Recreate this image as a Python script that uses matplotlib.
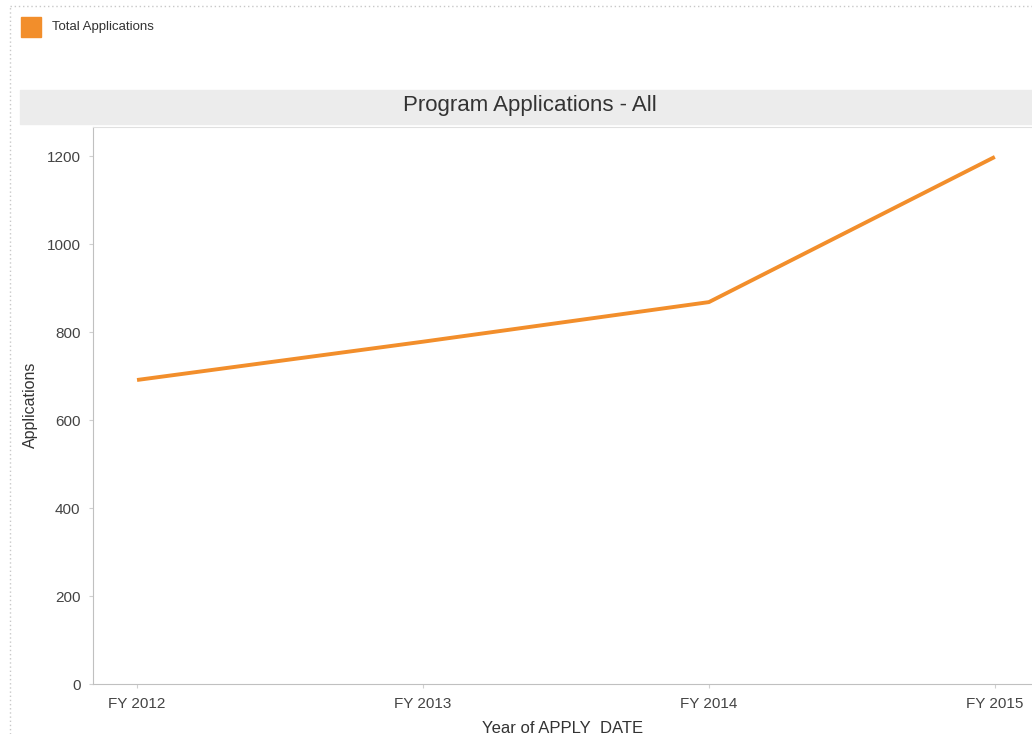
import matplotlib.pyplot as plt
from matplotlib.patches import Rectangle
from matplotlib.lines import Line2D

years = ['FY 2012', 'FY 2013', 'FY 2014', 'FY 2015']
applications = [691, 778, 868, 1198]
yticks = [0, 200, 400, 600, 800, 1000, 1200]

plt.rcParams['font.family'] = ['Liberation Sans', 'DejaVu Sans']

fig = plt.figure(figsize=(10.32, 7.34), dpi=100)
fig.patch.set_facecolor('white')

# dotted outer border (top and left)
fig.add_artist(Line2D([10/1032, 1], [1 - 6/734, 1 - 6/734], color='#c8c8c8', lw=1, ls=(0, (1, 2))))
fig.add_artist(Line2D([10/1032, 10/1032], [0, 1 - 6/734], color='#c8c8c8', lw=1, ls=(0, (1, 2))))

# legend
fig.add_artist(Rectangle((21/1032, 1 - 37/734), 20/1032, 20/734, color='#f28e2b', transform=fig.transFigure))
fig.text(52/1032, 1 - 27/734, 'Total Applications', fontsize=9.5, color='#333333', va='center')

# title band
fig.add_artist(Rectangle((20/1032, 1 - 124/734), 1 - 20/1032, 34/734, color='#ececec',
                         transform=fig.transFigure))
fig.text(530/1032, 1 - 106/734, 'Program Applications - All', fontsize=16, color='#333333',
         ha='center', va='center')

ax = fig.add_axes([93/1032, 50/734, 1 - 93/1032, (684 - 127)/734])
x = range(len(years))
ax.plot(x, applications, color='#f28e2b', lw=2.8, solid_capstyle='butt')

ax.set_xlim(-0.154, 3.13)
ax.set_ylim(0, 1266)
ax.set_xticks(list(x))
ax.set_xticklabels(years, fontsize=11, color='#444444')
ax.set_yticks(yticks)
ax.set_yticklabels([str(v) for v in yticks], fontsize=11, color='#444444')
ax.tick_params(axis='both', length=3, color='#d0d0d0', pad=6)
ax.spines['right'].set_visible(False)
ax.spines['top'].set_color('#e0e0e0')
ax.spines['left'].set_color('#c0c0c0')
ax.spines['bottom'].set_color('#c0c0c0')

fig.text(30/1032, 1 - 405/734, 'Applications', rotation=90, fontsize=11.5, color='#333333',
         ha='center', va='center')
fig.text(563/1032, 1 - 728/734, 'Year of APPLY_DATE', fontsize=12, color='#333333',
         ha='center', va='center')

fig.savefig('out.png', dpi=100)
